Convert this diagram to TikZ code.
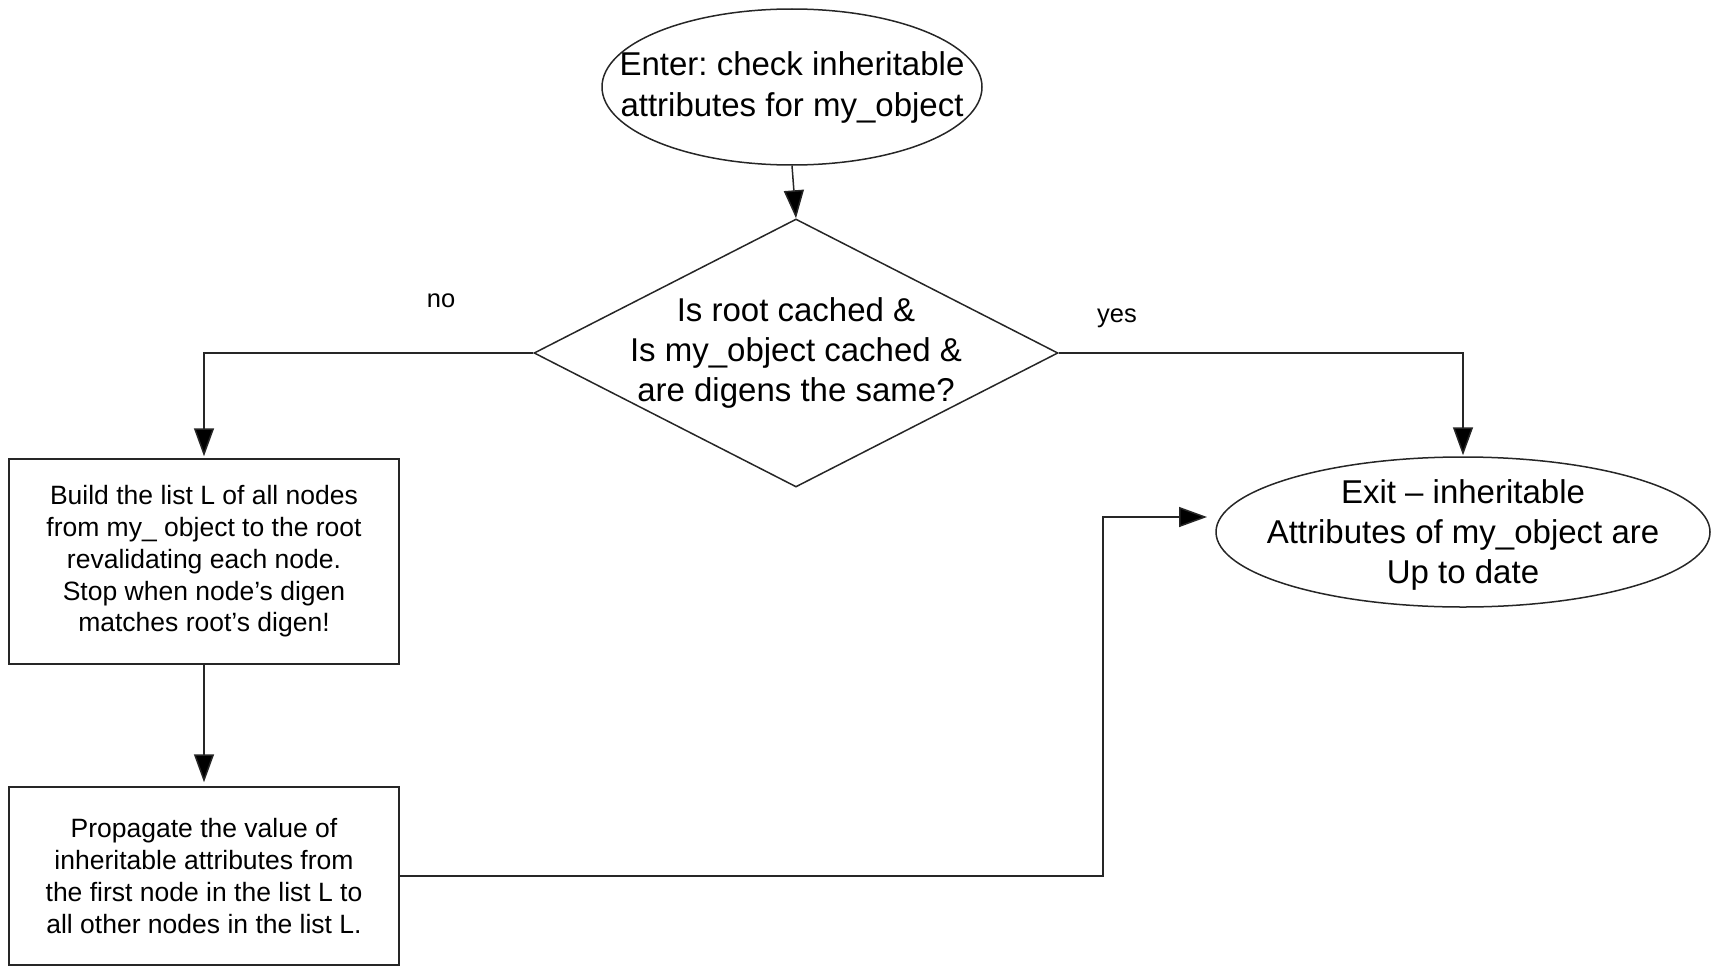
\documentclass[tikz,border=0pt]{standalone}
\usepackage{fontspec}
\setmainfont{Liberation Sans}
\usetikzlibrary{shapes.geometric,arrows.meta}
\frenchspacing
\tikzset{
  line/.style={line width=1.5pt, draw=black!85},
  arr/.style={line, -{Triangle[length=28pt,width=20pt,fill=black]}},
  oval/.style={ellipse, draw=black!85, line width=1.5pt, inner sep=0pt},
  ovaltext/.style={align=center, inner sep=0pt, font=\fontsize{33}{41}\selectfont},
  decision/.style={diamond, draw=black!85, line width=1.5pt, inner sep=0pt},
  dectext/.style={align=center, font=\fontsize{33}{40}\selectfont, inner sep=0pt},
  procbox/.style={rectangle, draw=black!85, line width=1.5pt, inner sep=0pt, align=center,
    minimum width=390pt, font=\fontsize{26.5}{31.7}\selectfont},
  lbl/.style={font=\fontsize{25.5}{30}\selectfont, inner sep=0pt}
}
\begin{document}
\begin{tikzpicture}[x=1pt,y=-1pt]
\useasboundingbox (0,0) rectangle (1713,966);
\node[oval, minimum width=380pt, minimum height=156pt] (enter) at (792,87) {};
\node[ovaltext] (entert) at (enter.center) {Enter: check inheritable\\attributes for my\_object};
\node[decision, minimum width=524pt, minimum height=268pt] (dec) at (796,353) {};
\node[dectext] (dect) at (dec.center) {Is root cached \&\\Is my\_object cached \&\\are digens the same?};
\node[procbox, minimum height=205pt] (box1) at (204,561.5)
  {Build the list L of all nodes\\from my\_ object to the root\\revalidating each node.\\Stop when node's digen\\matches root's digen!};
\node[procbox, minimum height=178pt] (box2) at (204,876)
  {Propagate the value of\\inheritable attributes from\\the first node in the list L to\\all other nodes in the list L.};
\node[oval, minimum width=494pt, minimum height=150pt] (exit) at (1463,532) {};
\node[ovaltext, font=\fontsize{33}{40}\selectfont] (exitt) at ([yshift=-3pt]exit.center)
  {Exit -- inheritable\\Attributes of my\_object are\\Up to date};
\node[lbl] (no) at (441,301) {no};
\node[lbl] (yes) at (1117,318) {yes};
\coordinate (bend) at (1103,517);
\coordinate (tip) at (1207,517);
\draw[arr] (enter.south) -- (dec.north);
\draw[arr, shorten >=2pt] (dec.west) -| (box1.north);
\draw[arr, shorten >=1pt] (dec.east) -| (exit.north);
\draw[arr, shorten >=4pt] (box1.south) -- (box2.north);
\draw[arr] (box2.east) -| (bend) -- (tip);
\end{tikzpicture}
\end{document}
